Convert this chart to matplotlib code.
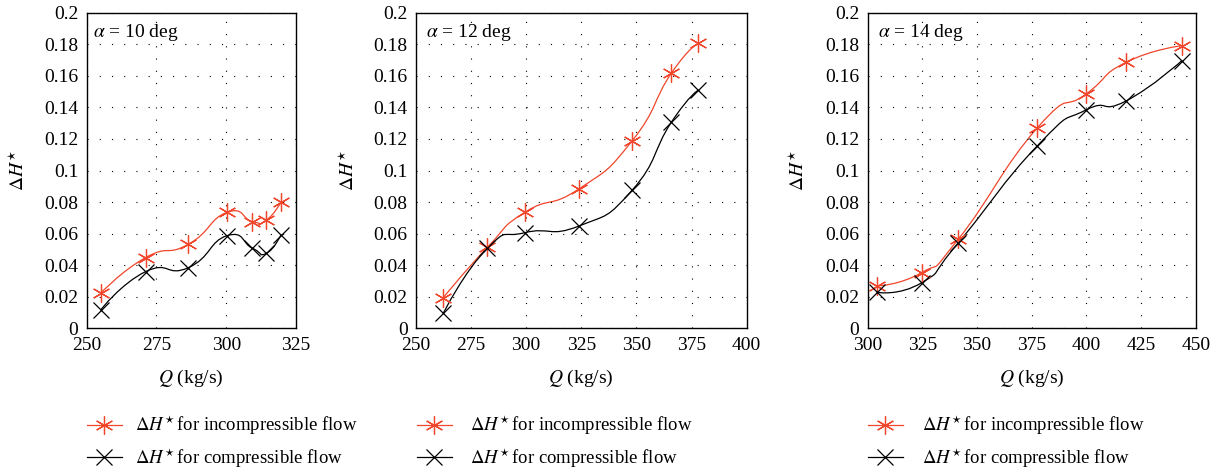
import numpy as np
import matplotlib
matplotlib.use("Agg")
import matplotlib.pyplot as plt
from matplotlib.path import Path
from matplotlib.patches import PathPatch
from matplotlib.lines import Line2D

plt.rcParams['font.family'] = ['Liberation Serif', 'DejaVu Serif']
plt.rcParams['mathtext.fontset'] = 'stix'

# --- data ---
angles = [10, 12, 14]
q_10 = [255.0, 271.1, 286.4, 300.3, 309.4, 314.4, 319.6]
inc_10 = [0.0222, 0.0448, 0.0532, 0.0735, 0.0676, 0.0686, 0.0798]
com_10 = [0.0116, 0.0359, 0.0384, 0.0587, 0.0507, 0.0475, 0.0591]

q_12 = [262.4, 282.4, 299.4, 323.9, 348.1, 365.8, 378.1]
inc_12 = [0.0194, 0.0513, 0.0735, 0.0883, 0.1189, 0.1616, 0.1806]
com_12 = [0.0095, 0.0507, 0.0606, 0.0648, 0.0876, 0.1305, 0.1510]

q_14 = [304.1, 324.7, 341.5, 377.6, 399.7, 418.0, 443.6]
inc_14 = [0.0268, 0.0353, 0.0566, 0.1271, 0.1483, 0.1685, 0.1791]
com_14 = [0.0228, 0.0289, 0.0543, 0.1157, 0.1383, 0.1440, 0.1696]

xlims = [(250, 325), (250, 400), (300, 450)]
red = '#f0462b'
star = (6, 2, 0)
dh = r'$\Delta H^{\!\star}$'


def smooth_path(x, y, k=0.2775):
    # tikz-style "smooth" bezier through the points
    p = np.column_stack([x, y])
    n = len(p)
    verts, codes = [p[0]], [Path.MOVETO]
    for i in range(n - 1):
        d0 = p[i + 1] - p[i - 1] if i > 0 else np.zeros(2)
        d1 = p[i + 2] - p[i] if i + 2 < n else np.zeros(2)
        verts += [p[i] + k * d0, p[i + 1] - k * d1, p[i + 1]]
        codes += [Path.CURVE4] * 3
    return Path(verts, codes)


def draw(ax, x, y, color, marker, ms):
    ax.add_patch(PathPatch(smooth_path(x, y), fill=False, edgecolor=color, lw=0.9))
    ax.plot(x, y, ls='none', marker=marker, ms=ms, mec=color, mfc='none', mew=0.9)


fig = plt.figure(figsize=(12.18, 4.73), dpi=100)
rects = [(0.0712, 0.306, 0.1718, 0.667),
         (0.3415, 0.306, 0.2715, 0.667),
         (0.7124, 0.306, 0.2693, 0.667)]
series = [(q_10, inc_10, com_10), (q_12, inc_12, com_12), (q_14, inc_14, com_14)]
leg_x = [0.0714, 0.3424, 0.7126]
leg_pad = [0.7, 0.95, 1.0]
ylab_x = [-0.28, -0.175, -0.183]

for i, ax_rect in enumerate(rects):
    ax = fig.add_axes(ax_rect)
    q, inc, com = series[i]
    draw(ax, q, inc, red, star, 13)
    draw(ax, q, com, 'black', 'x', 11)
    ax.set_xlim(*xlims[i])
    ax.set_ylim(0, 0.2)
    ax.set_xticks(np.arange(xlims[i][0], xlims[i][1] + 1, 25))
    ax.set_yticks(np.arange(0, 0.201, 0.02))
    ax.set_yticklabels(['0', '0.02', '0.04', '0.06', '0.08', '0.1', '0.12',
                        '0.14', '0.16', '0.18', '0.2'])
    ax.tick_params(labelsize=14, length=0, pad=6)
    ax.grid(True, color='black', ls=(0, (1, 10)), lw=0.8)
    for s in ax.spines.values():
        s.set_linewidth(1.0)
    ax.set_xlabel(r'$Q$ (kg/s)', fontsize=14, labelpad=10)
    ax.set_ylabel(dh, fontsize=14)
    ax.yaxis.set_label_coords(ylab_x[i], 0.5)
    ax.text(0.03, 0.97, r'$\alpha$ = %d deg' % angles[i], transform=ax.transAxes,
            fontsize=14, va='top', ha='left')

    h = [Line2D([], [], color=red, lw=0.9, marker=star, ms=13, mew=0.9),
         Line2D([], [], color='black', lw=0.9, marker='x', ms=11, mew=0.9)]
    fig.legend(h, [dh + 'for incompressible flow', dh + 'for compressible flow'],
               loc='upper left', bbox_to_anchor=(leg_x[i], 0.125),
               frameon=False, fontsize=13.5, handlelength=1.86,
               handletextpad=leg_pad[i], labelspacing=0.45, borderaxespad=0,
               borderpad=0)

fig.savefig('out.png', dpi=100)
